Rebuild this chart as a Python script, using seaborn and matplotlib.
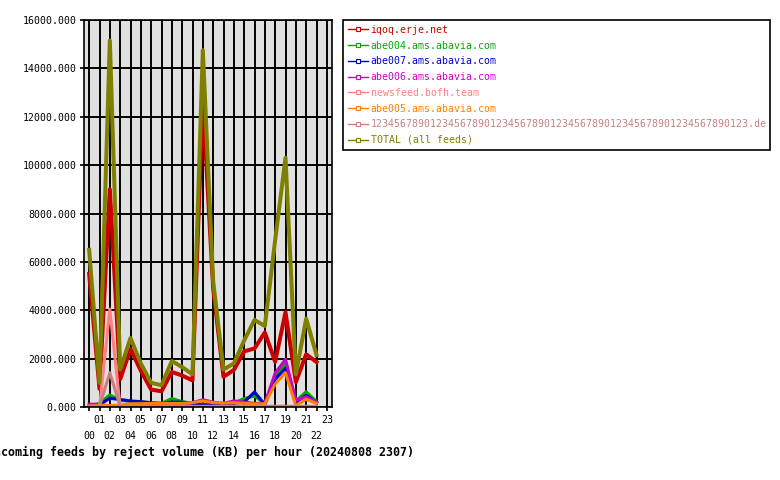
import matplotlib
matplotlib.use("Agg")
import matplotlib.pyplot as plt
import pandas as pd
import seaborn as sns
from matplotlib.lines import Line2D

# ---------------- data ----------------
hours = list(range(23))
even_hours = list(range(0, 24, 2))
odd_hours = list(range(1, 24, 2))
even_labels = [f"{h:02d}" for h in even_hours]
odd_labels = [f"{h:02d}" for h in odd_hours]
y_ticks = list(range(0, 16001, 2000))

feeds = [
    "iqoq.erje.net",
    "abe004.ams.abavia.com",
    "abe007.ams.abavia.com",
    "abe006.ams.abavia.com",
    "newsfeed.bofh.team",
    "abe005.ams.abavia.com",
    "123456789012345678901234567890123456789012345678901234567890123.de",
    "TOTAL (all feeds)",
]
colors = ["#cc0000", "#00aa00", "#0000cc", "#cc00cc", "#ff8080", "#ff8000", "#c88080", "#808000"]

iqoq = [5500, 750, 9000, 1150, 2400, 1500, 720, 650, 1450, 1300, 1100, 12700,
        4900, 1250, 1530, 2300, 2420, 3080, 1870, 3920, 1030, 2180, 1860]
abe004 = [60, 150, 500, 280, 230, 220, 150, 150, 350, 220, 160, 100,
          120, 130, 170, 350, 450, 150, 1250, 1800, 250, 630, 220]
abe007 = [30, 100, 360, 310, 250, 220, 180, 150, 200, 200, 150, 80,
          100, 120, 150, 200, 620, 100, 1150, 1600, 200, 480, 180]
abe006 = [120, 100, 50, 50, 50, 60, 60, 60, 80, 100, 180, 300,
          200, 150, 250, 200, 150, 150, 1400, 1970, 280, 420, 200]
newsfeed = [0, 0, 4050, 0, 0, 0, 0, 0, 0, 0, 0, 0,
            0, 0, 0, 0, 0, 0, 0, 0, 0, 0, 0]
abe005 = [40, 60, 60, 80, 130, 140, 150, 150, 150, 150, 180, 250,
          180, 160, 170, 150, 130, 130, 950, 1420, 50, 320, 150]
longname = [30, 30, 1420, 30, 30, 30, 30, 30, 30, 30, 30, 30,
            30, 30, 30, 30, 30, 30, 30, 30, 30, 30, 30]
total = [6500, 1000, 15150, 1550, 2850, 1800, 1000, 900, 1900, 1650, 1350, 14750,
         5200, 1550, 1800, 2750, 3600, 3350, 6900, 10300, 1350, 3650, 2150]

series = [iqoq, abe004, abe007, abe006, newsfeed, abe005, longname, total]
title = "Incoming feeds by reject volume (KB) per hour (20240808 2307)"

# ---------------- figure ----------------
W, H = 780, 480
mono = "DejaVu Sans Mono"
plt.rcParams["font.family"] = [mono]

rows = []
for name, vals in zip(feeds, series):
    for h, v in zip(hours, vals):
        rows.append({"feed": name, "hour": h, "kb": v})
df = pd.DataFrame(rows)

fig = plt.figure(figsize=(W / 100, H / 100), dpi=100)
ax = fig.add_axes([84 / W, (H - 407) / H, (332 - 84) / W, (407 - 20) / H])
ax.set_facecolor("#e0e0e0")

for name, col in zip(feeds, colors):
    lw = 2.9 if name in (feeds[0], feeds[-1]) else 2.2
    sns.lineplot(data=df[df["feed"] == name], x="hour", y="kb", color=col,
                 linewidth=lw, estimator=None, sort=False, legend=False, ax=ax)

ax.set_xlim(-0.5, 23.5)
ax.set_ylim(0, 16000)
ax.set_xticks(even_hours)
ax.set_xticklabels(even_labels)
ax.set_xticks(odd_hours, minor=True)
ax.set_xticklabels(odd_labels, minor=True)
ax.set_yticks(y_ticks)
ax.set_yticklabels([f"{v:.3f}" for v in y_ticks])
ax.set_xlabel("")
ax.set_ylabel("")
ax.grid(True, which="major", color="black", linewidth=1.4)
ax.grid(True, which="minor", axis="x", color="black", linewidth=1.4)
ax.set_axisbelow(True)
ax.tick_params(axis="both", which="both", length=3, width=1.2, color="black",
               labelsize=7.1, labelcolor="black")
ax.tick_params(axis="x", which="minor", pad=2.5)
ax.tick_params(axis="x", which="major", pad=14)
ax.tick_params(axis="y", which="major", pad=2.5)
for s in ax.spines.values():
    s.set_color("black")
    s.set_linewidth(1.2)

handles = [Line2D([], [], color=c, lw=1.0, marker="s", markersize=2.5,
                  markerfacecolor="white", markeredgecolor=c, markeredgewidth=0.8)
           for c in colors]
leg = ax.legend(handles, feeds, loc="upper left",
                bbox_to_anchor=(343 / W, 1 - 20 / H, (770 - 343) / W, 0.0),
                bbox_transform=fig.transFigure, mode="expand",
                prop={"family": mono, "size": 7.1}, labelcolor=colors,
                frameon=True, fancybox=False, framealpha=1, edgecolor="black",
                handlelength=2.0, handletextpad=0.3, labelspacing=0.58,
                borderpad=0.5, borderaxespad=0)
leg.get_frame().set_linewidth(1.2)

fig.text(414 / W, 1 - 452 / H, title, ha="right", va="center",
         family=mono, fontweight="bold", fontsize=8.4, color="black")

fig.savefig("out.png", dpi=100, facecolor="white")
